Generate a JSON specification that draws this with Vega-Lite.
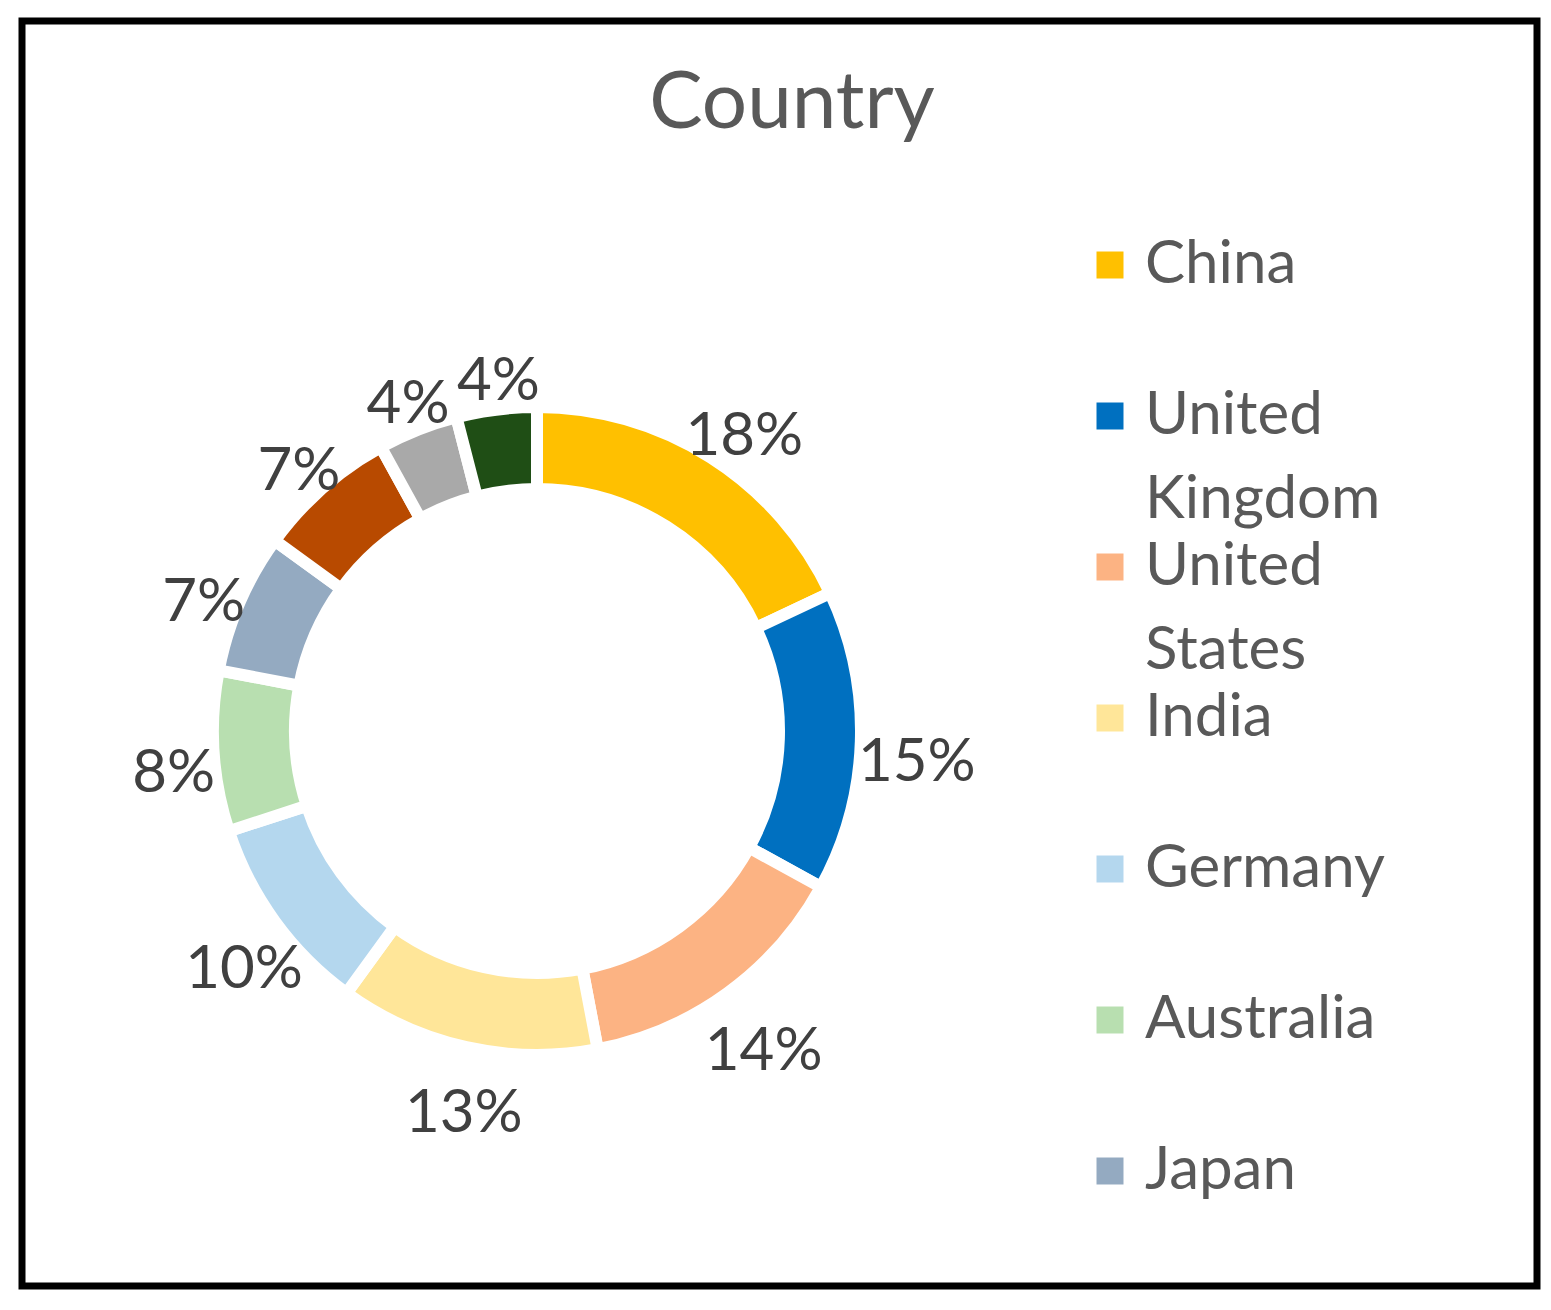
{
  "$schema": "https://vega.github.io/schema/vega-lite/v6.json",
  "width": 1515,
  "height": 1265,
  "autosize": {"type": "none"},
  "padding": {"left": 22, "top": 21, "right": 14, "bottom": 24},
  "background": "white",
  "data": {
    "values": [
      {"country": "China", "share": 0.18, "rank": 1},
      {"country": "United Kingdom", "share": 0.15, "rank": 2},
      {"country": "United States", "share": 0.14, "rank": 3},
      {"country": "India", "share": 0.13, "rank": 4},
      {"country": "Germany", "share": 0.10, "rank": 5},
      {"country": "Australia", "share": 0.08, "rank": 6},
      {"country": "Japan", "share": 0.07, "rank": 7},
      {"country": "Canada", "share": 0.07, "rank": 8},
      {"country": "Brazil", "share": 0.04, "rank": 9},
      {"country": "Others", "share": 0.04, "rank": 10}
    ]
  },
  "layer": [
    {
      "data": {"values": [{"frame": "border"}]},
      "mark": {"type": "rect", "fill": null, "fillOpacity": 0, "stroke": "black", "strokeWidth": 7},
      "encoding": {
        "x": {"value": 0},
        "x2": {"value": "width"},
        "y": {"value": 0},
        "y2": {"value": "height"}
      }
    },
    {
      "data": {"values": [{"title": "Country"}]},
      "mark": {"type": "text", "font": "Lato", "fontSize": 80, "color": "#595959", "align": "center", "baseline": "alphabetic", "x": 770, "y": 107},
      "encoding": {"text": {"field": "title", "type": "nominal"}}
    },
    {
      "mark": {"type": "arc", "outerRadius": 324, "innerRadius": 242, "stroke": "white", "strokeWidth": 12, "x": 515, "y": 710},
      "encoding": {
        "theta": {"field": "share", "type": "quantitative", "stack": true},
        "order": {"field": "rank", "type": "quantitative"},
        "color": {
          "field": "country",
          "type": "nominal",
          "scale": {
            "domain": ["China", "United Kingdom", "United States", "India", "Germany", "Australia", "Japan", "Canada", "Brazil", "Others"],
            "range": ["#FFC000", "#0070C0", "#FCB383", "#FFE699", "#B4D7EE", "#B8DFB0", "#94AAC1", "#B84A00", "#A9A9A9", "#1F4E15"]
          },
          "legend": {
            "title": null,
            "orient": "none",
            "legendX": 1058,
            "legendY": 214,
            "padding": 0,
            "values": ["China", "United Kingdom", "United States", "India", "Germany", "Australia", "Japan"],
            "symbolType": "square",
            "symbolSize": 729,
            "symbolStrokeWidth": 0,
            "symbolOpacity": 1,
            "labelFont": "Lato",
            "labelFontSize": 60,
            "labelColor": "#595959",
            "labelOffset": 5,
            "labelLimit": 0,
            "rowPadding": 7,
            "labelExpr": "datum.label == 'United Kingdom' ? ['United', 'Kingdom'] : datum.label == 'United States' ? ['United', 'States'] : [datum.label, '']"
          }
        }
      }
    },
    {
      "mark": {"type": "text", "radius": 372, "x": 523, "y": 710, "dy": 20, "font": "Lato", "fontSize": 60},
      "encoding": {
        "theta": {"field": "share", "type": "quantitative", "stack": true},
        "order": {"field": "rank", "type": "quantitative"},
        "detail": {"field": "country", "type": "nominal"},
        "text": {"field": "share", "type": "quantitative", "format": ".0%"},
        "color": {"value": "#404040"}
      }
    }
  ],
  "config": {"style": {"guide-label": {"lineHeight": 84}}}
}
